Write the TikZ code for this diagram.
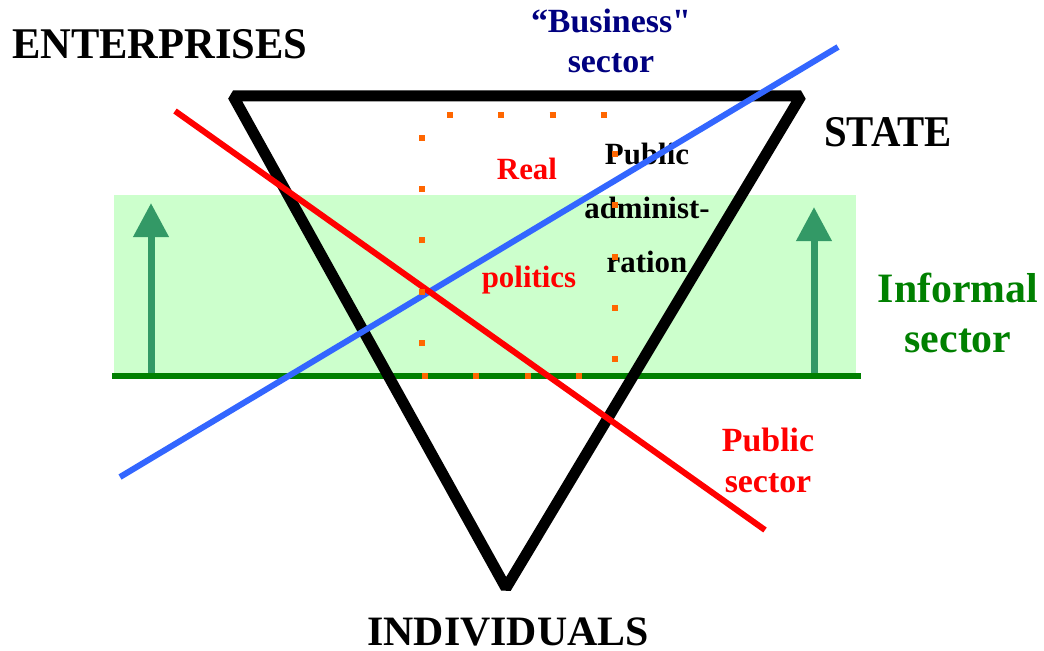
\documentclass[tikz,border=0pt]{standalone}
\usepackage{fontspec}
\setmainfont{Liberation Serif}
\newfontfamily\rawserif{Liberation Serif}
\usetikzlibrary{arrows.meta}

\definecolor{bandgreen}{HTML}{CCFFCC}
\definecolor{linegreen}{HTML}{008000}
\definecolor{arrowgreen}{HTML}{339966}
\definecolor{bizblue}{HTML}{3366FF}
\definecolor{navy}{HTML}{000080}
\definecolor{dotorange}{HTML}{FF6600}

\begin{document}
\begin{tikzpicture}[
    x=1bp, y=-1bp,
    every node/.style={inner sep=0pt},
    corner/.style={font=\fontsize{44}{48}\selectfont\bfseries},
    sidelabel/.style={font=\fontsize{34}{41}\selectfont\bfseries, align=center},
    innerlabel/.style={font=\fontsize{31}{54}\selectfont\bfseries, align=center},
    band/.style={fill=bandgreen},
    groundline/.style={draw=linegreen, line width=6.5bp},
    risearrow/.style={draw=arrowgreen, line width=7bp, -{Triangle[width=34bp,length=34bp]}},
    triedge/.style={draw=black, line width=11bp, line join=bevel},
    publine/.style={draw=red, line width=6bp},
    bizline/.style={draw=bizblue, line width=6bp},
    dotline/.style={draw=dotorange, line width=6bp, dash pattern=on 6bp off 45.3bp}
]
\useasboundingbox (0,0) rectangle (1044,651);

% Informal sector band and its ground line
\fill[band] (114,195) rectangle (856,376);
\coordinate (gleft) at (112,376);
\coordinate (gright) at (861,376);

% Arrows rising out of the informal sector
\coordinate (lbase) at (151,376);
\coordinate (ltip) at (151,203);
\coordinate (rbase) at (814,376);
\coordinate (rtip) at (814,207);
\draw[risearrow] (lbase) -- (ltip);
\draw[risearrow] (rbase) -- (rtip);
\draw[groundline] (gleft) -- (gright);

% Corners of the triangle
\coordinate (ent) at (233,96);
\coordinate (sta) at (801,96);
\coordinate (ind) at (506,588);
\draw[triedge] (ent) -- (sta) -- (ind) -- cycle;

% Corner labels
\node[corner, anchor=base west, xscale=0.97] (enterprises) at (12,59) {ENTERPRISES};
\node[corner, anchor=base west, xscale=0.93] (state) at (824,147) {STATE};
\node[corner, font=\fontsize{42}{48}\selectfont\bfseries, text depth=0pt, anchor=base] (individuals) at (508,645) {INDIVIDUALS};

% Sector labels (anchored at the baseline of their last line)
\node[sidelabel, text=navy, anchor=base] (business) at (611,73) {\textquotedblleft Business{\rawserif\bfseries"}\\sector};
\node[sidelabel, text=linegreen, font=\fontsize{42}{50}\selectfont\bfseries, anchor=base] (informal) at (958,352) {Informal\\sector};
\node[sidelabel, text=red, anchor=base] (pubsector) at (768,492) {Public\\sector};

% Inside the triangle
\node[innerlabel, text=red, anchor=base] (real) at (527,180) {Real};
\node[innerlabel, text=red, anchor=base] (politics) at (529,287) {politics};
\node[innerlabel, anchor=base] (pubadmin) at (647,272) {Public\\administ-\\ration};

% Business and public sector lines
\coordinate (bizstart) at (120,477);
\coordinate (bizend) at (838,47);
\coordinate (pubstart) at (175,111);
\coordinate (pubend) at (765,530);
\draw[bizline] (bizstart) -- (bizend);
\draw[publine] (pubstart) -- (pubend);

% Dotted box of real politics
\draw[dotline] (447,115) -- (607,115);
\draw[dotline] (615,151) -- (615,363);
\draw[dotline] (582,376) -- (422,376);
\draw[dotline] (422,346) -- (422,134);

\end{tikzpicture}
\end{document}
